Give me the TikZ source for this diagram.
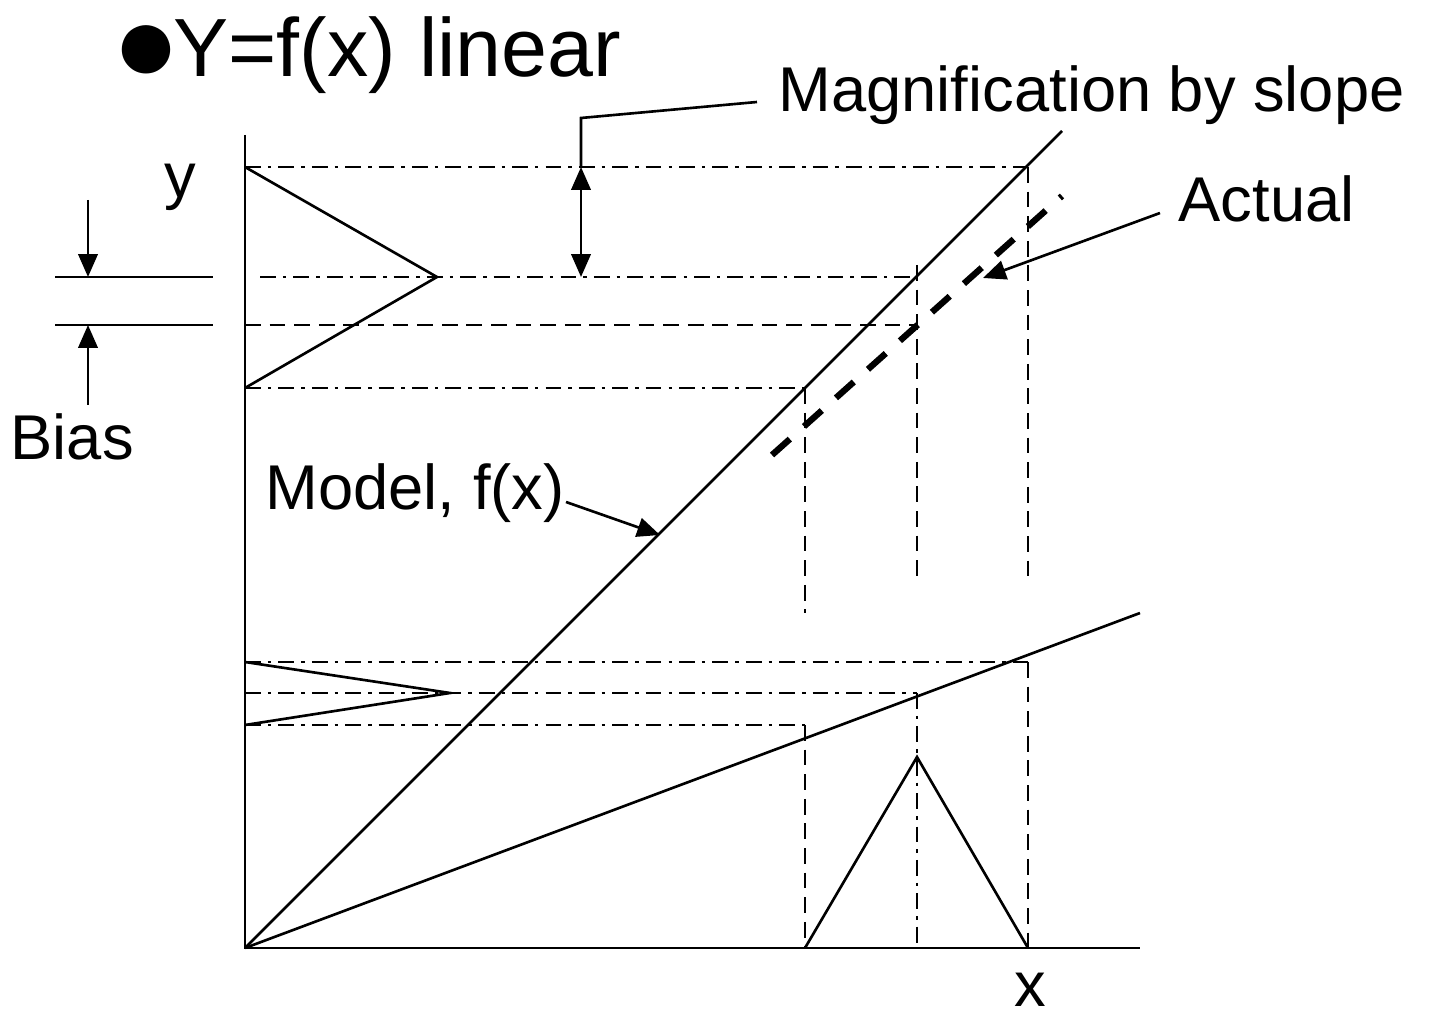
\documentclass[tikz,border=0pt]{standalone}
\usepackage{fontspec}
\setmainfont{Liberation Sans}
\usetikzlibrary{arrows.meta}

\begin{document}
\begin{tikzpicture}[
        line join=miter,
        ln/.style={line width=0.75pt},
        dd/.style={line width=0.75pt, dash pattern=on 4.5pt off 2pt on 1pt off 2pt},
        ds/.style={line width=0.75pt, dash pattern=on 4.5pt off 2.5pt},
        act/.style={line width=1.8pt, dash pattern=on 6.8pt off 5.4pt},
        arr/.style={line width=0.75pt, -{Triangle[length=6.5pt,width=5.5pt]}},
        lbl/.style={font=\fontsize{18}{20}\selectfont, inner sep=0pt}
    ]
        \useasboundingbox (0,0) rectangle (14.29,-10.17);

        \node[font=\fontsize{23.5}{28}\selectfont, inner sep=0pt, anchor=base west] (ttl) at (1.12,-0.77)
            {{\fontsize{32}{32}\selectfont\raisebox{-1.2pt}{●}}\kern-2pt Y=f(x) linear};

        % axes
        \coordinate (o) at (2.45,-9.48);
        \coordinate (ytop) at (2.45,-1.35);
        \coordinate (xend) at (11.40,-9.48);
        \coordinate (steep) at (10.62,-1.31);
        \coordinate (flat) at (11.40,-6.13);

        \draw[ln] (ytop)--(o)--(xend);
        \draw[ln] (o)--(steep);
        \draw[ln] (o)--(flat);

        \node[lbl, anchor=base] (ylab) at (1.80,-1.98) {y};
        \node[lbl, anchor=base] (xlab) at (10.30,-10.06) {x};

        % upper output distribution
        \coordinate (u1) at (2.45,-1.67);
        \coordinate (u2) at (2.60,-2.77);
        \coordinate (up) at (4.37,-2.77);
        \coordinate (u3) at (2.45,-3.25);
        \coordinate (u4) at (2.45,-3.88);
        \coordinate (hi) at (10.28,-1.67);
        \coordinate (mid) at (9.17,-2.77);
        \coordinate (act) at (9.17,-3.25);
        \coordinate (lo) at (8.05,-3.88);

        \draw[dd] (u1)--(hi);
        \draw[dd] (u2)--(mid);
        \draw[ds] (u3)--(act);
        \draw[dd] (u4)--(lo);
        \draw[ln] (u1)--(up)--(u4);

        \draw[ds] (lo)--++(0,-2.25);
        \draw[ds] (9.17,-2.65)--(9.17,-5.82);
        \draw[ds] (hi)--++(0,-4.15);

        \draw[act] (7.72,-4.55)--(10.62,-1.96);

        % lower output distribution
        \coordinate (l1) at (2.45,-6.62);
        \coordinate (l2) at (2.45,-6.93);
        \coordinate (lp) at (4.50,-6.93);
        \coordinate (l3) at (2.45,-7.25);
        \coordinate (hi2) at (10.28,-6.62);
        \coordinate (mid2) at (9.17,-6.93);
        \coordinate (lo2) at (8.05,-7.25);

        \draw[dd] (l1)--(hi2);
        \draw[dd] (l2)--(mid2);
        \draw[dd] (l3)--(lo2);
        \draw[ln] (l1)--(lp)--(l3);

        \draw[ds] (lo2)--(8.05,-9.48);
        \draw[dd] (mid2)--(9.17,-9.48);
        \draw[ds] (hi2)--(10.28,-9.48);

        % input distribution
        \coordinate (x1) at (8.05,-9.48);
        \coordinate (xp) at (9.17,-7.57);
        \coordinate (x3) at (10.28,-9.48);
        \draw[ln] (x1)--(xp)--(x3);

        % bias
        \coordinate (b1) at (0.55,-2.77);
        \coordinate (b2) at (0.55,-3.25);
        \draw[ln] (b1)--++(1.58,0);
        \draw[ln] (b2)--++(1.58,0);
        \draw[arr] (0.88,-2.00)--(0.88,-2.77);
        \draw[arr] (0.88,-4.05)--(0.88,-3.25);
        \node[lbl, anchor=base west] (bias) at (0.10,-4.60) {Bias};

        % magnification
        \node[lbl, anchor=base west] (mag) at (7.78,-1.12) {Magnification by slope};
        \coordinate (m1) at (5.81,-1.67);
        \coordinate (m2) at (5.81,-2.77);
        \draw[ln, {Triangle[length=6.5pt,width=5.5pt]}-{Triangle[length=6.5pt,width=5.5pt]}] (m1)--(m2);
        \draw[ln] (m1)--(5.81,-1.18)--(7.57,-1.02);

        % labels
        \node[lbl, anchor=base west] (actual) at (11.78,-2.22) {Actual};
        \draw[arr] (11.60,-2.13)--(9.83,-2.78);

        \node[lbl, anchor=base west] (model) at (2.65,-5.10) {Model, f(x)};
        \draw[arr] (5.66,-5.02)--(6.60,-5.35);
    \end{tikzpicture}
\end{document}
